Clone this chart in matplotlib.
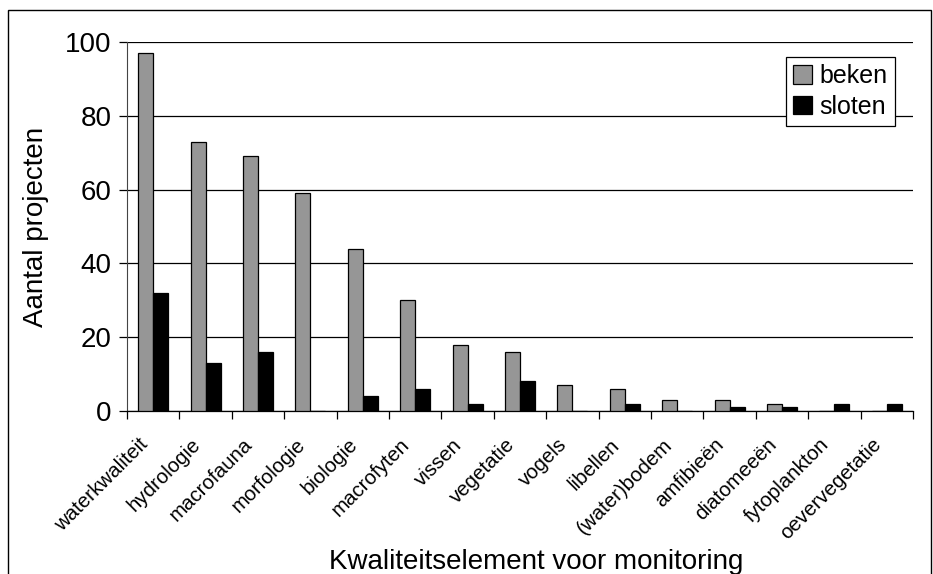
import matplotlib
matplotlib.use("Agg")
import matplotlib.pyplot as plt
import matplotlib.transforms as mtransforms
import numpy as np
from matplotlib.patches import Rectangle

plt.rcParams['font.family'] = ['Liberation Sans', 'DejaVu Sans']

categories = ['waterkwaliteit', 'hydrologie', 'macrofauna', 'morfologie', 'biologie',
              'macrofyten', 'vissen', 'vegetatie', 'vogels', 'libellen', '(water)bodem',
              'amfibieën', 'diatomeeën', 'fytoplankton', 'oevervegetatie']
beken = [97, 73, 69, 59, 44, 30, 18, 16, 7, 6, 3, 3, 2, 0, 0]
sloten = [32, 13, 16, 0, 4, 6, 2, 8, 0, 2, 0, 1, 1, 2, 2]

fig = plt.figure(figsize=(9.33, 5.74), dpi=100)
ax = fig.add_axes([127 / 933, 1 - 411 / 574, (913 - 127) / 933, (411 - 42) / 574])

x = np.arange(len(categories))
w = 0.286
ax.bar(x - w / 2, beken, w, color='#969696', edgecolor='black', linewidth=0.9, label='beken', zorder=3)
ax.bar(x + w / 2, sloten, w, color='black', edgecolor='black', linewidth=0.9, label='sloten', zorder=3)

ax.set_xlim(-0.5, len(categories) - 0.5)
ax.set_ylim(0, 100)
ax.set_yticks(range(0, 101, 20))
ax.yaxis.grid(True, color='black', linewidth=0.9, zorder=0)
ax.set_axisbelow(True)

# category labels, rotated, placed a bit left of the category centre
ax.set_xticks(x)
ax.set_xticklabels([])
ax.tick_params(axis='x', which='major', length=0)
shift = mtransforms.ScaledTranslation(-0.15, -0.24, fig.dpi_scale_trans)
for i, name in enumerate(categories):
    ax.text(i, 0, name, transform=ax.get_xaxis_transform() + shift, rotation=45,
            ha='right', va='top', rotation_mode='anchor', fontsize=14.8)
ax.set_xticks(np.arange(-0.5, len(categories)), minor=True)
ax.tick_params(axis='x', which='minor', length=6, width=0.9, direction='out', color='black')
ax.tick_params(axis='y', labelsize=20, length=6, width=0.9, direction='out', pad=5)

for s in ['top', 'right']:
    ax.spines[s].set_visible(False)
ax.spines['left'].set_color('#444444')
ax.spines['bottom'].set_linewidth(0.9)

ax.set_ylabel('Aantal projecten', fontsize=20, labelpad=12)
fig.text(536 / 933, 1 - 562 / 574, 'Kwaliteitselement voor monitoring', fontsize=20,
         ha='center', va='center')

leg = ax.legend(loc='upper right', bbox_to_anchor=(0.9775, 0.96), fontsize=18, frameon=True,
                fancybox=False, edgecolor='black', framealpha=1, borderpad=0.3,
                handlelength=0.75, handleheight=0.75, handletextpad=0.3, labelspacing=0.25,
                borderaxespad=0)
leg.get_frame().set_linewidth(0.9)

fig.patches.append(Rectangle((8 / 933, -0.1), (931 - 8) / 933, 1.1 - 10 / 574,
                             transform=fig.transFigure, fill=False, edgecolor='black',
                             linewidth=1))

fig.savefig('out.png', dpi=100)
